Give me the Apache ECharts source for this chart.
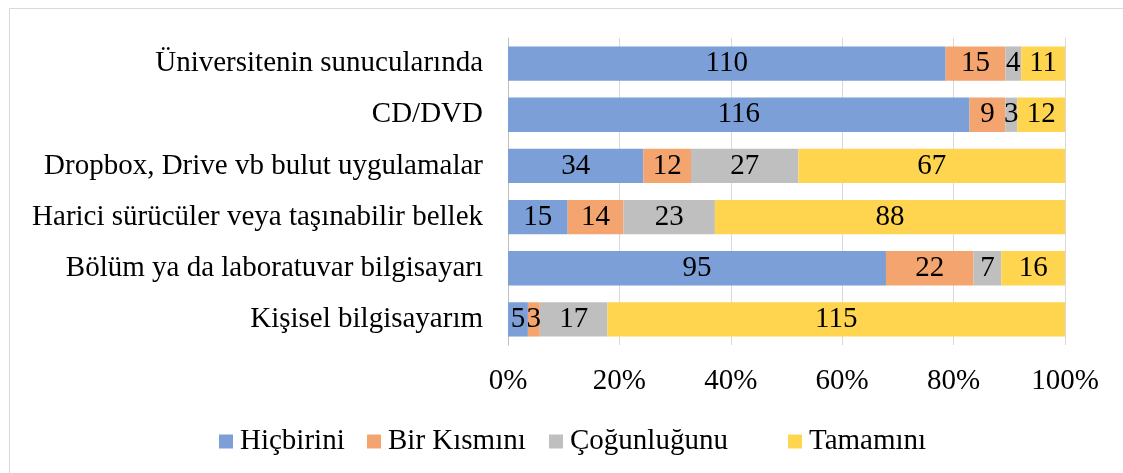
<!DOCTYPE html>
<html>
<head>
<meta charset="utf-8">
<script src="https://cdn.jsdelivr.net/npm/echarts@6/dist/echarts.min.js"></script>
<style>
  html, body { margin: 0; padding: 0; background: #fff; }
  #chart { width: 1123px; height: 473px; }
</style>
</head>
<body>
<div id="chart"></div>
<script>
// kategoriler (yukaridan asagiya)
var categories = [
  'Üniversitenin sunucularında',
  'CD/DVD',
  'Dropbox, Drive vb bulut uygulamalar',
  'Harici sürücüler veya taşınabilir bellek',
  'Bölüm ya da laboratuvar bilgisayarı',
  'Kişisel bilgisayarım'
];
var seriesNames = ['Hiçbirini', 'Bir Kısmını', 'Çoğunluğunu', 'Tamamını'];
var hicbirini = [110, 116, 34, 15, 95, 5];
var birKismini = [15, 9, 12, 14, 22, 3];
var cogunlugunu = [4, 3, 27, 23, 7, 17];
var tamamini = [11, 12, 67, 88, 16, 115];
var xTicks = [0, 20, 40, 60, 80, 100];

var colors = ['#7b9fd6', '#f3a46f', '#bfbfbf', '#ffd44f'];
var font = '"Liberation Serif", "Times New Roman", serif';
var fs = 29;
var legendLeft = [219, 367, 549, 788];

var raw = [hicbirini, birKismini, cogunlugunu, tamamini];
var totals = categories.map(function (c, i) {
  return raw.reduce(function (s, arr) { return s + arr[i]; }, 0);
});

var series = raw.map(function (arr, k) {
  return {
    name: seriesNames[k],
    type: 'bar',
    stack: 'total',
    barCategoryGap: '33%',
    itemStyle: { color: colors[k] },
    label: {
      show: true,
      color: '#000',
      fontFamily: font,
      fontSize: fs,
      formatter: function (p) { return arr[p.dataIndex]; }
    },
    data: arr.map(function (v, i) { return v / totals[i] * 100; })
  };
});

// her legend ogesi ayri konumda (Excel gibi)
var legends = seriesNames.map(function (name, k) {
  return {
    data: [name],
    left: legendLeft[k] - 5,
    top: 422,
    icon: 'rect',
    itemWidth: 14,
    itemHeight: 14,
    textStyle: { fontFamily: font, fontSize: fs, color: '#000', padding: [0, 0, 0, 2] }
  };
});

var myChart = echarts.init(document.getElementById('chart'));
myChart.setOption({
  animation: false,
  backgroundColor: '#fff',
  textStyle: { fontFamily: font },
  graphic: [{
    type: 'rect',
    shape: { x: 9.5, y: 8.5, width: 1200, height: 500 },
    style: { fill: 'none', stroke: '#d9d9d9', lineWidth: 1 }
  }],
  legend: legends,
  grid: { left: 508, right: 58, top: 38, bottom: 128, containLabel: false },
  xAxis: {
    type: 'value',
    min: xTicks[0],
    max: xTicks[xTicks.length - 1],
    interval: 20,
    axisLine: { show: false },
    axisTick: { show: false },
    splitLine: { lineStyle: { color: '#d9d9d9' } },
    axisLabel: {
      margin: 22,
      fontFamily: font,
      fontSize: fs,
      color: '#000',
      formatter: '{value}%'
    }
  },
  yAxis: {
    type: 'category',
    inverse: true,
    data: categories,
    axisLine: { show: true, lineStyle: { color: '#bfbfbf' } },
    axisTick: { show: false },
    axisLabel: { margin: 25, fontFamily: font, fontSize: fs, color: '#000' }
  },
  series: series
});
</script>
</body>
</html>
